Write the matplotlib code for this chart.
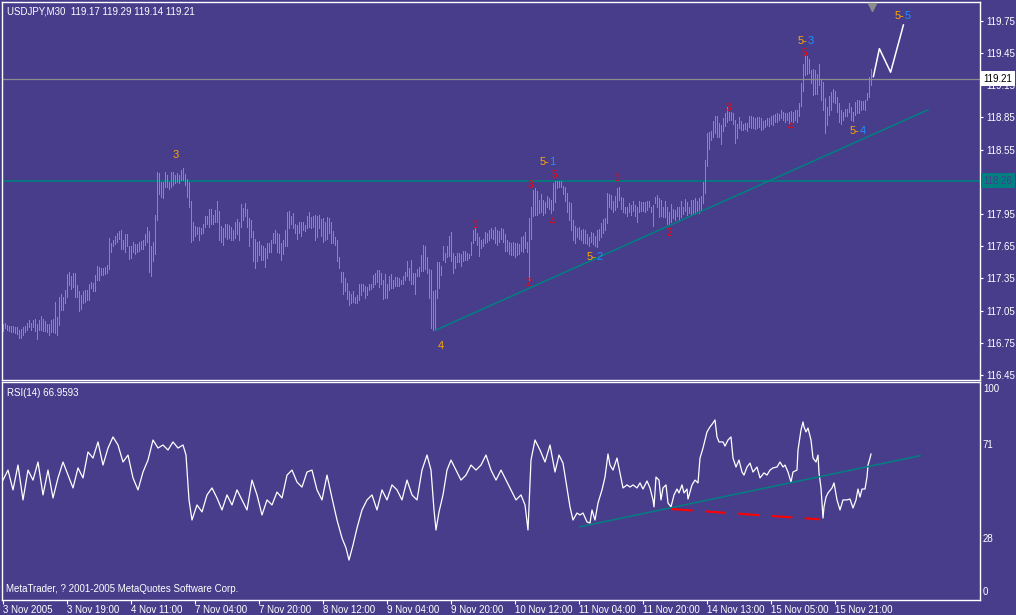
import matplotlib
matplotlib.use("Agg")
import matplotlib.pyplot as plt
from matplotlib import transforms

BG = "#483D8B"
BAR = "#32CD32"
TEAL = "#008080"
ORANGE = "#FFA500"
BLUE = "#1E90FF"
RED = "#FF0000"

plt.rcParams['font.family'] = ['Liberation Sans', 'DejaVu Sans']

# ---- price bars (M30), one high / low per bar ----
high_a = [116.93,116.94,116.92,116.91,116.91,116.91,116.90,116.90,116.87,116.88,
          116.90,116.91,116.94,116.96,116.94,116.96,116.97,116.93,116.96,117.00,
          116.97,116.95,116.93,116.93,116.96,116.97,117.13,116.99,117.18,117.21,
          117.18,117.24,117.39,117.41,117.37,117.40,117.40,117.29,117.23,117.20,
          117.23,117.24,117.24,117.30,117.32,117.31,117.38,117.47,117.46,117.45,
          117.45,117.46,117.48,117.73,117.68,117.71,117.75,117.77,117.79,117.80,
          117.71,117.76,117.76,117.65,117.65,117.69,117.67,117.67,117.69,117.70,
          117.71,117.76,117.83,117.79,117.65,117.69,117.94,118.34,118.33,118.25,
          118.25,118.34,118.31,118.25,118.34,118.34,118.31,118.33,118.31,118.36,
          118.38,118.32,118.28,118.25,118.07,117.88,117.84,117.83,117.83,117.82,
          117.86,117.93,117.93,118.00,118.00,117.94,117.99,118.07,117.98,117.84,
          117.82,117.86,117.86,117.85,117.83,117.80,117.88,117.90,117.88,118.04,
          118.01,118.05,118.00,117.91]
low_a = [116.86,116.89,116.87,116.86,116.85,116.85,116.84,116.83,116.80,116.80,
         116.82,116.85,116.87,116.90,116.87,116.90,116.86,116.79,116.87,116.87,
         116.86,116.86,116.85,116.82,116.85,116.85,116.84,116.82,116.92,117.06,
         117.06,117.12,117.18,117.29,117.25,117.27,117.18,117.18,117.05,117.07,
         117.12,117.13,117.15,117.15,117.26,117.23,117.23,117.34,117.34,117.38,
         117.38,117.39,117.40,117.44,117.60,117.65,117.67,117.69,117.72,117.62,
         117.62,117.60,117.65,117.53,117.54,117.60,117.58,117.60,117.61,117.62,
         117.62,117.66,117.69,117.41,117.37,117.51,117.58,117.89,118.14,118.11,
         118.10,118.20,118.20,118.18,118.20,118.22,118.24,118.25,118.24,118.27,
         118.27,118.22,118.11,118.02,117.69,117.71,117.75,117.76,117.71,117.76,
         117.77,117.83,117.86,117.83,117.86,117.86,117.88,117.88,117.71,117.69,
         117.66,117.74,117.72,117.73,117.71,117.71,117.73,117.76,117.71,117.83,
         117.89,117.93,117.83,117.65]

high_b = [117.89,117.79,117.72,117.69,117.70,117.66,117.65,117.63,117.68,117.68,
          117.71,117.77,117.80,117.77,117.76,117.68,117.71,117.80,117.97,117.98,
          117.93,117.96,117.86,117.85,117.88,117.88,117.88,117.85,117.93,117.97,
          117.92,117.93,117.94,117.93,117.94,117.90,117.91,117.88,117.92,117.91,
          117.88,117.79,117.74,117.71,117.55,117.41,117.41,117.35,117.31,117.23,
          117.21,117.23,117.18,117.20,117.30,117.30,117.30,117.28,117.27,117.30,
          117.30,117.38,117.40,117.43,117.43,117.40,117.34,117.39,117.30,117.37,
          117.39,117.34,117.36,117.36,117.35,117.34,117.37,117.41,117.51,117.45,
          117.52,117.40,117.40,117.44,117.46,117.57,117.66,117.65,117.55,117.44,
          117.43,117.23,117.24,117.50,117.50,117.47,117.65,117.59,117.65,117.75,
          117.78,117.59,117.56,117.59,117.59,117.58,117.61,117.61,117.59,117.58,
          117.69,117.80,117.82,117.77,117.74,117.71,117.72,117.78,117.77,117.80,
          117.82,117.80,117.83,117.80,117.79]
low_b = [117.74,117.51,117.45,117.51,117.57,117.52,117.52,117.46,117.54,117.60,
         117.60,117.68,117.68,117.60,117.59,117.52,117.58,117.65,117.65,117.82,
         117.86,117.82,117.77,117.72,117.77,117.75,117.80,117.79,117.82,117.83,
         117.82,117.83,117.71,117.74,117.82,117.75,117.69,117.71,117.72,117.77,
         117.68,117.68,117.66,117.51,117.45,117.32,117.21,117.23,117.16,117.10,
         117.12,117.13,117.12,117.12,117.15,117.20,117.23,117.17,117.20,117.24,
         117.25,117.27,117.30,117.32,117.27,117.30,117.16,117.17,117.17,117.24,
         117.26,117.26,117.28,117.28,117.28,117.30,117.30,117.34,117.37,117.34,
         117.30,117.30,117.21,117.37,117.37,117.42,117.42,117.44,117.40,117.17,
         116.89,116.87,116.87,117.17,117.26,117.38,117.52,117.50,117.55,117.56,
         117.51,117.40,117.45,117.50,117.50,117.47,117.51,117.52,117.52,117.54,
         117.57,117.68,117.71,117.66,117.56,117.63,117.65,117.68,117.69,117.71,
         117.73,117.72,117.68,117.66,117.69]

high_c = [117.82,117.81,117.76,117.71,117.69,117.68,117.69,117.68,117.68,117.67,
          117.74,117.75,117.78,117.69,117.91,118.02,118.17,118.19,118.16,118.08,
          118.14,118.08,118.06,118.12,118.10,118.08,118.24,118.26,118.26,118.26,
          118.26,118.21,118.20,118.15,118.06,118.05,117.89,117.84,117.82,117.83,
          117.80,117.81,117.80,117.76,117.74,117.78,117.77,117.75,117.80,117.81,
          117.87,117.90,117.91,118.15,118.14,118.13,118.07,118.12,118.19,118.20,
          118.11,118.10,118.02,118.02,118.05,118.03,118.07,118.03,118.02,118.07,
          118.06,118.06,118.06,118.07,118.07,118.02,118.03,118.11,118.13,118.10,
          118.08,118.02,118.07,118.02,117.97,118.04,118.00,117.99,118.02,118.02,
          118.07,118.02,118.09,118.06,118.02,118.08,118.08,118.10,118.07,118.10]
low_c = [117.72,117.69,117.61,117.61,117.58,117.57,117.57,117.55,117.57,117.58,
         117.61,117.60,117.63,117.60,117.34,117.72,117.93,117.94,117.94,117.96,
         117.97,117.94,117.96,118.02,118.00,117.96,117.99,118.06,118.19,118.20,
         118.20,118.14,118.07,117.97,117.89,117.80,117.71,117.68,117.74,117.72,
         117.71,117.68,117.68,117.67,117.65,117.69,117.67,117.65,117.64,117.71,
         117.74,117.77,117.80,117.87,118.02,118.00,117.97,117.99,118.02,118.08,
         118.00,117.97,117.96,117.93,117.97,117.94,117.98,117.93,117.88,117.97,
         117.98,117.98,117.97,117.99,118.02,117.97,117.84,118.05,118.02,117.92,
         117.93,117.92,117.92,117.86,117.85,117.88,117.91,117.89,117.93,117.89,
         117.92,117.95,117.98,117.94,117.96,117.95,117.96,117.95,117.98,117.96]

high_d = [118.12,118.25,118.45,118.70,
          118.71,118.72,118.82,118.86,118.86,118.80,118.78,118.84,118.89,118.95,
          118.90,118.90,118.89,118.83,118.79,118.85,118.82,118.79,118.80,118.80,
          118.86,118.86,118.85,118.84,118.85,118.85,118.84,118.82,118.83,118.84,
          118.84,118.86,118.87,118.88,118.89,118.88,118.92,118.90,118.89,118.89,
          118.90,118.91,118.90,118.92,118.92,118.98,119.17,119.35,119.43,119.42,
          119.39,119.29,119.30,119.29,119.25,119.35,119.20,119.18,119.03,118.95,
          119.05,119.09,119.11,119.10,119.04,118.98,118.92,118.90,118.93,118.93,
          118.98,118.95,118.90,118.99,119.01,119.01,119.00,119.00,119.01,119.08,
          119.23,119.30]
low_d = [117.98,118.05,118.15,118.40,
         118.56,118.64,118.67,118.70,118.67,118.67,118.60,118.72,118.77,118.81,
         118.83,118.83,118.79,118.61,118.66,118.75,118.73,118.73,118.74,118.72,
         118.76,118.75,118.75,118.74,118.75,118.76,118.73,118.74,118.76,118.78,
         118.77,118.79,118.78,118.81,118.81,118.83,118.84,118.83,118.81,118.83,
         118.80,118.81,118.81,118.83,118.81,118.86,118.96,119.10,119.24,119.25,
         119.26,119.17,119.06,119.07,119.07,119.15,119.01,118.92,118.70,118.78,
         118.87,118.92,118.99,118.98,118.90,118.81,118.79,118.83,118.86,118.86,
         118.90,118.83,118.82,118.87,118.89,118.89,118.92,118.93,118.92,119.01,
         119.04,119.15]

high = high_a + high_b + high_c + high_d
low = low_a + low_b + low_c + low_d
bars = list(range(len(high)))

# time axis labels, one every 32 bars (16 hours)
tick_bars = [0, 32, 64, 96, 128, 160, 192, 224, 256, 288, 320, 352, 384, 416]
tick_labels = ["3 Nov 2005", "3 Nov 19:00", "4 Nov 11:00", "7 Nov 04:00", "7 Nov 20:00",
               "8 Nov 12:00", "9 Nov 04:00", "9 Nov 20:00", "10 Nov 12:00", "11 Nov 04:00",
               "11 Nov 20:00", "14 Nov 13:00", "15 Nov 05:00", "15 Nov 21:00"]
# 118.25 sits under the 118.26 line label in the terminal, so it is left out
price_ticks = [116.45, 116.75, 117.05, 117.35, 117.65, 117.95, 118.55, 118.85, 119.15, 119.45, 119.75]

# drawn objects on the price window
trend_bar = [216.4, 462.5]
trend_price = [116.87, 118.92]
level_gray = 119.21
level_teal = 118.26
forecast_bar = [435.2, 438.2, 443.8, 450.2]
forecast_price = [119.23, 119.49, 119.27, 119.71]

wave_main = [("3", 86.5, 118.50), ("4", 219.0, 116.72)]
wave_sub = [("1", 272.3, 118.43), ("2", 295.8, 117.55), ("3", 401.3, 119.56),
            ("4", 427.5, 118.72), ("5", 449.8, 119.79)]
wave_minor = [("1", 236.0, 117.85), ("2", 262.5, 117.31), ("3", 263.8, 118.22),
              ("5", 275.8, 118.31), ("4", 275.0, 117.88), ("1", 306.8, 118.29),
              ("2", 333.0, 117.77), ("3", 362.8, 118.94), ("4", 393.8, 118.76),
              ("5", 400.8, 119.45)]

# ---- RSI(14) ----
rsi_bar = [0, 2.5, 5, 7.5, 10, 12.5, 15, 17.5, 20, 22.5, 25, 27.5, 30, 32.5, 35, 37.5, 40, 42.5,
           45, 47.5, 50, 52.5, 55, 57.5, 60, 62.5, 65, 67.5, 70, 72.5, 75, 77.5, 80, 82.5, 85,
           87.5, 90, 91.5, 93, 94.5, 97, 99.5, 102, 104.5, 107, 109.5, 112, 114.5, 117, 119.5,
           122, 124.5, 127, 129.5, 132, 134.5, 137, 139.5, 142, 144.5, 147, 149.5, 152, 154.5,
           157, 159.5, 162, 164.5, 167, 169.5, 171.5, 173, 175, 177, 179.5, 182, 184.5, 187,
           189.5, 192, 194.5, 197, 199.5, 202, 204.5, 207, 209.5, 212, 214, 215.5, 216.5, 218,
           220, 222, 224, 226.5, 229, 231.5, 234, 236.5, 239, 241.5, 244, 246.5, 249, 251.5,
           254, 256.5, 259, 261, 262.5, 264, 266, 268.5, 271, 273.5, 276, 278,
           280, 282, 283.5, 285, 287, 288.5, 290, 292, 293.5, 294.5, 296, 297.5, 299.5, 301,
           302.5, 303.5, 305, 307, 308.5, 310, 312, 313.5, 315, 317, 318.5, 320, 322, 323.5,
           325, 325.5, 326.5, 328, 329, 330, 331.5, 332.5, 334, 335.5, 337, 338, 339.5, 340.5,
           342, 342.5, 344.5, 346, 347.5, 348.5, 350, 352, 353.5, 355, 356, 357, 358, 360, 361,
           362.5, 364, 365, 366.5, 368, 369.5, 370.5, 372, 373.5, 375, 377, 378.5, 380.5, 382,
           383.5, 385, 387, 388.5, 390, 391, 392.5, 394, 395, 397, 397.5, 399, 400, 400.5,
           401.5, 402.5, 404, 405, 406.5, 407.5, 408, 409, 410, 410.5, 411.5, 412.5, 414.5,
           415.5, 417, 418.5, 420, 422, 423.5, 425, 426.5, 427.5, 428.5, 429.5, 431, 432,
           432.5, 433.5, 434]
rsi_value = [55.0, 59.6, 50.5, 61.9, 45.9, 59.6, 55.0, 63.3, 48.2, 59.6, 46.8, 56.0, 63.3, 57.3,
             51.4, 60.6, 56.0, 67.9, 65.1, 72.5, 61.9, 69.7, 74.8, 71.1, 63.3, 66.5, 56.0, 50.5,
             58.7, 64.2, 73.4, 69.7, 71.1, 68.8, 72.5, 69.7, 71.1, 66.5, 45.9, 36.7, 43.6, 40.4,
             48.2, 51.4, 46.8, 41.3, 48.2, 43.6, 50.5, 45.9, 41.3, 55.0, 48.2, 39.0, 45.9, 43.6,
             49.5, 46.8, 57.3, 59.6, 54.1, 51.8, 58.7, 59.6, 50.5, 45.9, 57.3, 46.8, 36.7, 28.4,
             23.9, 18.3, 25.2, 33.0, 41.3, 45.9, 48.2, 41.3, 50.5, 45.9, 52.8, 50.5, 45.9, 55.0,
             48.2, 45.9, 59.6, 66.5, 59.6, 41.3, 32.1, 40.4, 48.2, 59.6, 64.2, 59.6, 55.0, 57.3,
             61.9, 59.6, 61.9, 66.5, 59.6, 55.0, 59.6, 55.0, 50.5, 45.9, 48.2, 43.6, 32.1, 64.2,
             73.4, 68.8, 63.3, 71.1, 58.7, 66.5,
             62.8, 51.4, 42.7, 36.7, 39.9, 39.0, 39.9, 35.8, 35.3, 41.3, 36.7, 44.5, 50.5, 56.4,
             67.0, 61.9, 59.6, 65.1, 58.3, 51.4, 52.8, 51.8, 52.8, 51.4, 53.7, 50.9, 54.6, 51.4,
             45.9, 42.7, 56.4, 55.0, 45.9, 51.4, 52.8, 44.5, 42.7, 48.2, 50.9, 49.1, 52.8, 49.1,
             50.9, 46.3, 52.8, 55.0, 53.7, 65.1, 69.7, 77.1, 79.4, 81.2, 82.6, 74.8, 72.5, 72.5,
             70.6, 73.4, 74.8, 65.1, 61.0, 64.2, 58.7, 57.3, 61.0, 62.8, 58.7, 61.0, 56.0, 58.3,
             57.3, 59.6, 60.6, 61.0, 63.3, 61.0, 61.9, 58.7, 54.1, 58.7, 59.6, 68.8, 78.0, 81.7,
             79.4, 77.1, 78.9, 73.4, 65.1, 63.3, 66.5, 58.3, 51.4, 37.6, 42.7, 47.2, 49.1, 51.4,
             53.7, 45.9, 41.3, 45.9, 45.9, 46.3, 42.2, 45.9, 50.9, 47.2, 50.9, 50.9, 56.4, 61.9,
             65.1, 66.96]
rsi_levels = [71, 28]
rsi_trend_bar = [288.5, 458.5]
rsi_trend_value = [33.6, 66.2]
rsi_div_bar = [334.4, 408.5]
rsi_div_value = [41.7, 37.0]

# ---- figure layout (pixel boxes of the terminal window) ----
W, H = 1016, 615
fig = plt.figure(figsize=(W / 100, H / 100), dpi=100, facecolor=BG)
ax = fig.add_axes([2 / W, (H - 380) / H, 978 / W, 378 / H], facecolor=BG)
rax = fig.add_axes([2 / W, (H - 600) / H, 978 / W, 218 / H], facecolor=BG)

for a in (ax, rax):
    a.set_xlim(-0.5, 488.5)
    for s in a.spines.values():
        s.set_color("white")
        s.set_linewidth(1.0)

# price window
ax.vlines(bars, low, high, colors=BAR, linewidth=0.6, antialiased=False)
ax.set_ylim(116.405, 119.924)
ax.axhline(level_gray, color="#8C8C8C", linewidth=0.9, zorder=1)
ax.axhline(level_teal, color=TEAL, linewidth=1.2, zorder=1)
ax.plot(trend_bar, trend_price, color=TEAL, linewidth=1.1)
ax.plot(forecast_bar, forecast_price, color="white", linewidth=1.1)

ax.set_xticks([])
ax.yaxis.tick_right()
ax.set_yticks(price_ticks)
ax.set_yticklabels([f"{p:.2f}" for p in price_ticks])
ax.tick_params(axis="y", colors="white", direction="out", length=2.5, width=0.8,
               labelsize=7, pad=2)

ytr = transforms.blended_transform_factory(ax.transAxes, ax.transData)
ax.text(1.0035, level_gray, "119.21", transform=ytr, fontsize=7, color="black",
        va="center", ha="left", zorder=10, clip_on=False,
        bbox=dict(boxstyle="square,pad=0.25", facecolor="white", edgecolor="none"))
ax.text(1.0035, level_teal, "118.26", transform=ytr, fontsize=7, color=BG,
        va="center", ha="left", zorder=10, clip_on=False,
        bbox=dict(boxstyle="square,pad=0.25", facecolor=TEAL, edgecolor="none"))

xtr = transforms.blended_transform_factory(ax.transData, ax.transAxes)
ax.plot([434.3], [0.988], marker="v", markersize=6, color="#8C8C8C", transform=xtr,
        clip_on=False, zorder=6)

for txt, b, p in wave_main:
    ax.text(b, p, txt, color=ORANGE, fontsize=8, ha="center", va="center")
for txt, b, p in wave_sub:
    ax.text(b + 0.8, p, "5-", color=ORANGE, fontsize=8, ha="right", va="center")
    ax.text(b + 0.8, p, txt, color=BLUE, fontsize=8, ha="left", va="center")
for txt, b, p in wave_minor:
    ax.text(b, p, txt, color=RED, fontsize=7, ha="center", va="center")

# RSI window
rax.plot(rsi_bar, rsi_value, color="white", linewidth=0.9)
rax.plot(rsi_trend_bar, rsi_trend_value, color=TEAL, linewidth=1.1)
rax.plot(rsi_div_bar, rsi_div_value, color=RED, linewidth=1.5, dashes=(10, 6))
rax.set_ylim(0, 100)
rax.set_yticks([])
rtr = transforms.blended_transform_factory(rax.transAxes, rax.transData)
rax.text(1.003, 99, "100", transform=rtr, color="white", fontsize=7, va="top", ha="left")
for lv in rsi_levels:
    rax.text(1.003, lv, str(lv), transform=rtr, color="white", fontsize=7, va="center", ha="left")
rax.text(1.003, 1.5, "0", transform=rtr, color="white", fontsize=7, va="bottom", ha="left")

rax.set_xticks(tick_bars)
rax.set_xticklabels(tick_labels, ha="left")
rax.tick_params(axis="x", colors="white", direction="out", length=3, width=0.8,
                labelsize=7, pad=0.5)

# window captions
fig.text(7 / W, 1 - 11 / H, "USDJPY,M30  119.17 119.29 119.14 119.21", color="white",
         fontsize=7, va="center", ha="left")
fig.text(7 / W, 1 - 393 / H, "RSI(14) 66.9593", color="white", fontsize=7, va="center", ha="left")
fig.text(6 / W, 1 - 589 / H, "MetaTrader, ? 2001-2005 MetaQuotes Software Corp.", color="white",
         fontsize=7, va="center", ha="left")

fig.savefig("out.png", dpi=100, facecolor=BG)
